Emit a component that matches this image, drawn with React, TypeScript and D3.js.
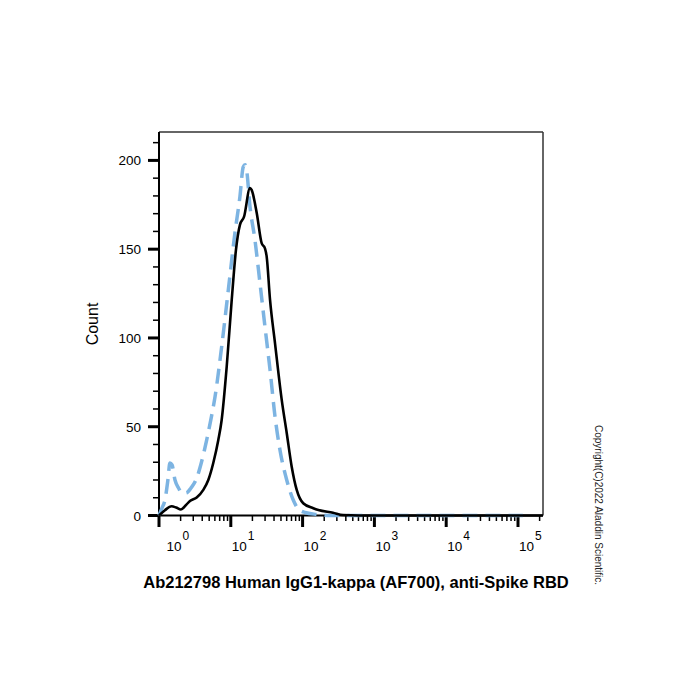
import React from "react";
import * as d3 from "d3";

// ---- data (fluorescence intensity, count) ----
const blackX = [1, 1.21, 1.5, 1.73, 2.02, 2.38, 2.7, 3.35, 4.14, 4.86, 5.7, 6.7, 7.46, 8.77, 10.3, 11.8, 13.4, 15.3, 18.5, 19.5, 23.0, 26.9, 29.9, 31.6, 35.2, 41.3, 51.2, 60.1, 70.5, 82.8, 102, 141, 166, 265, 366, 1000, 10000, 100000, 222000];
const blackY = [0, 3, 5.2, 4.5, 3.4, 5.9, 8.2, 10.1, 14.4, 20, 29.6, 42.5, 53.8, 83.8, 121.4, 149.6, 163.7, 168.3, 184.5, 183.4, 170.3, 153.4, 150.5, 145.8, 121.4, 97, 65.1, 46.5, 27.5, 14.4, 6.9, 4.1, 3.1, 1.6, 0.3, 0, 0, 0, 0];

const blueX = [1, 1.1, 1.21, 1.33, 1.42, 1.52, 1.67, 1.87, 2.07, 2.38, 2.79, 3.35, 3.91, 4.61, 5.3, 6.03, 7.46, 9.23, 11.4, 13.4, 14.9, 15.8, 16.6, 18.5, 21.7, 25.5, 29.9, 35.2, 41.3, 48.4, 60.1, 74.1, 87.1, 108, 157, 240, 1000, 10000, 117000];
const blueY = [0, 4.2, 8.7, 20, 29.6, 28.5, 20, 15.5, 12.7, 12.7, 15.5, 21, 30.1, 42.5, 54.4, 66.9, 95.1, 127, 159, 179.6, 196.3, 197.5, 194.6, 174, 155.2, 130.8, 106.4, 82, 55.7, 36.9, 20, 8.7, 3.7, 1.7, 0.6, 0, 0, 0, 0];

const yMajorTicks = [0, 50, 100, 150, 200];
const xDecades = [0, 1, 2, 3, 4, 5];

const titleText = "Ab212798 Human IgG1-kappa (AF700), anti-Spike RBD";
const yLabelText = "Count";
const copyrightText = "Copyright(C)2022 Aladdin Scientific.";

const FONT = "'Liberation Sans', Arial, Helvetica, sans-serif";

export default function App() {
  const left = 159, right = 543, top = 132, bottom = 515.5;
  const xMax = Math.pow(10, (right - left) / 71.8);
  const x = d3.scaleLog().domain([1, xMax]).range([left, right]);
  const y = d3.scaleLinear().domain([0, 216]).range([bottom, top]);

  const line = d3
    .line<[number, number]>()
    .x((d) => x(d[0]))
    .y((d) => y(d[1]))
    .curve(d3.curveMonotoneX);

  const blackPts = blackX.map((v, i) => [v, blackY[i]] as [number, number]);
  const bluePts = blueX.map((v, i) => [v, blueY[i]] as [number, number]);

  const yMinor = d3.range(0, 216, 10).filter((v) => v % 50 !== 0);
  const xMinor: number[] = [];
  xDecades.forEach((d) => {
    for (let m = 2; m <= 9; m++) {
      const v = m * Math.pow(10, d);
      if (v <= xMax) xMinor.push(v);
    }
  });

  return (
    <svg
      width={700}
      height={700}
      style={{ position: "absolute", left: 0, top: 0, background: "#fff" }}
      fontFamily={FONT}
    >
      <rect x={0} y={0} width={700} height={700} fill="#fff" />
      {/* frame top/right */}
      <line x1={left} x2={right} y1={top} y2={top} stroke="#333" strokeWidth={1.5} />
      <line x1={right} x2={right} y1={top} y2={bottom} stroke="#333" strokeWidth={1.5} />

      {/* axes */}
      <line x1={left} x2={left} y1={top} y2={bottom + 1} stroke="#000" strokeWidth={2} />
      <line x1={left - 2} x2={right} y1={bottom} y2={bottom} stroke="#000" strokeWidth={2} />

      {/* y ticks */}
      {yMinor.map((v) => (
        <line key={"ym" + v} x1={left - 6} x2={left} y1={y(v)} y2={y(v)} stroke="#000" strokeWidth={1.5} />
      ))}
      {yMajorTicks.map((v) => (
        <g key={"yM" + v}>
          <line x1={left - 11} x2={left} y1={y(v)} y2={y(v)} stroke="#000" strokeWidth={3} />
          <text x={141} y={y(v) + 5} textAnchor="end" fontSize={13.5} fill="#000">
            {v}
          </text>
        </g>
      ))}

      {/* x ticks */}
      {xMinor.map((v) => (
        <line key={"xm" + v} x1={x(v)} x2={x(v)} y1={bottom} y2={bottom + 5.5} stroke="#000" strokeWidth={1.5} />
      ))}
      {xDecades.map((d) => {
        const px = x(Math.pow(10, d));
        const lx = Math.max(px + 1, 166.5);
        return (
          <g key={"xM" + d}>
            <line x1={px} x2={px} y1={bottom} y2={bottom + 11.5} stroke="#000" strokeWidth={3} />
            <text x={lx} y={551} fontSize={13.5} fill="#000">
              10
              <tspan dx={1} dy={-11} fontSize={12}>
                {d}
              </tspan>
            </text>
          </g>
        );
      })}

      {/* curves */}
      <path
        d={line(bluePts) || ""}
        fill="none"
        stroke="#7db4e2"
        strokeWidth={3.5}
        strokeDasharray="15,8"
      />
      <path d={line(blackPts) || ""} fill="none" stroke="#000" strokeWidth={2.6} strokeLinejoin="round" />

      {/* labels */}
      <text
        transform={`translate(98,324) rotate(-90)`}
        textAnchor="middle"
        fontSize={16}
        fill="#000"
      >
        {yLabelText}
      </text>
      <text x={356} y={588} textAnchor="middle" fontSize={16.5} fontWeight="bold" fill="#000">
        {titleText}
      </text>
      <text transform={`translate(595,425) rotate(90)`} fontSize={10} fill="#222">
        {copyrightText}
      </text>
    </svg>
  );
}
